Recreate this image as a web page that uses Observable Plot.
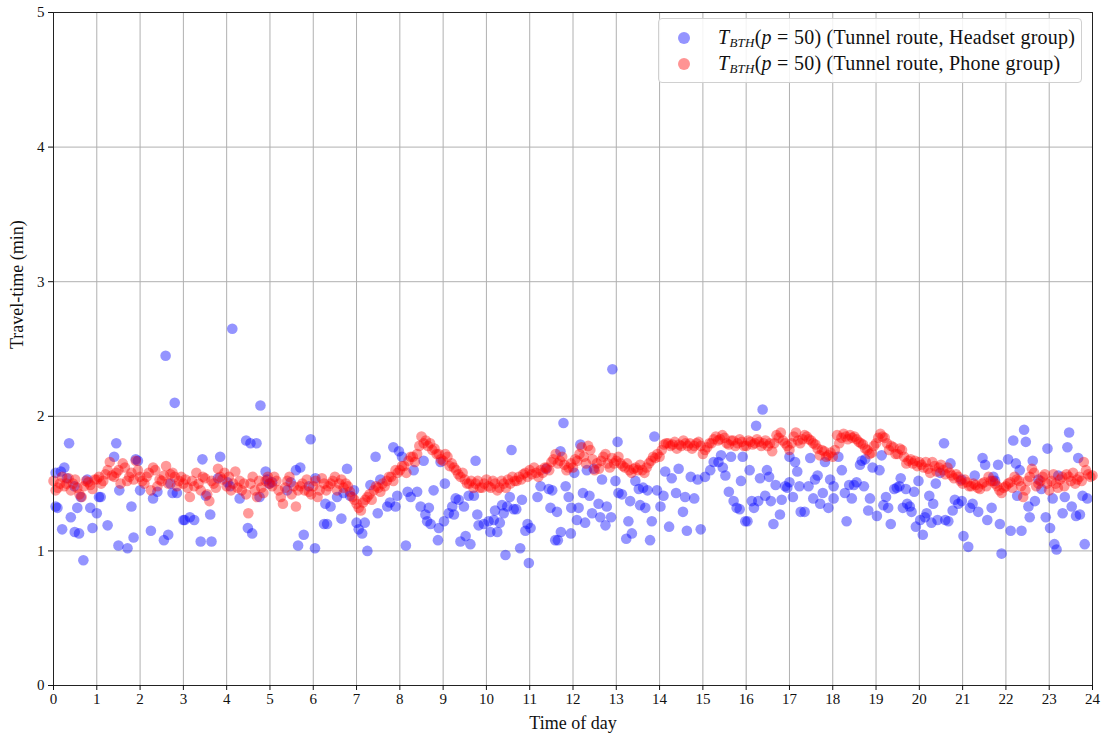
<!DOCTYPE html>
<html><head><meta charset="utf-8">
<script src="https://cdn.jsdelivr.net/npm/d3@7"></script>
<script src="https://cdn.jsdelivr.net/npm/@observablehq/plot@0.6"></script>
<style>
body{margin:0;background:#fff;}
#wrap{position:relative;width:1101px;height:737px;font-family:"Liberation Serif","DejaVu Serif",serif;}
#legend{position:absolute;left:658px;top:18px;width:424px;height:65px;border:1px solid #d0d0d0;border-radius:4px;background:rgba(255,255,255,0.85);box-sizing:border-box;font-size:20px;letter-spacing:0.25px;color:#111;}
.row{position:absolute;left:0;height:26px;display:flex;align-items:center;white-space:nowrap;}
.mk{width:12px;height:12px;border-radius:50%;margin-left:19px;margin-right:28px;}
sub{font-size:13px;vertical-align:-3px;}
</style></head>
<body><div id="wrap"></div>
<script>
// Tick labels
const xTicks = [0,1,2,3,4,5,6,7,8,9,10,11,12,13,14,15,16,17,18,19,20,21,22,23,24];
const yTicks = [0,1,2,3,4,5];

// Phone group: values every 0.1 h from 0.0 to 24.0
const phoneStep = 0.1;
const phoneValues = [
 1.52,1.47,1.55,1.50,1.45,1.53,1.42,1.48,1.51,1.46,
 1.53,1.50,1.57,1.66,1.55,1.60,1.65,1.52,1.58,1.67,
 1.55,1.50,1.58,1.62,1.48,1.52,1.63,1.57,1.55,1.52,
 1.50,1.47,1.52,1.58,1.45,1.54,1.37,1.50,1.61,1.53,
 1.48,1.45,1.59,1.52,1.50,1.28,1.55,1.40,1.47,1.52,
 1.50,1.55,1.45,1.35,1.52,1.42,1.33,1.48,1.45,1.44,
 1.48,1.40,1.54,1.45,1.50,1.55,1.50,1.47,1.48,1.40,
 1.35,1.30,1.38,1.42,1.45,1.47,1.50,1.52,1.55,1.60,
 1.60,1.63,1.67,1.70,1.72,1.85,1.82,1.80,1.76,1.72,
 1.67,1.70,1.65,1.60,1.55,1.53,1.50,1.47,1.52,1.47,
 1.53,1.47,1.50,1.47,1.50,1.53,1.55,1.52,1.53,1.58,
 1.60,1.62,1.55,1.58,1.62,1.66,1.72,1.67,1.64,1.62,
 1.62,1.67,1.77,1.65,1.75,1.60,1.61,1.70,1.65,1.69,
 1.67,1.65,1.62,1.60,1.61,1.60,1.60,1.62,1.67,1.69,
 1.70,1.79,1.80,1.79,1.76,1.78,1.80,1.80,1.78,1.81,
 1.72,1.77,1.80,1.85,1.83,1.84,1.79,1.82,1.80,1.81,
 1.78,1.81,1.80,1.81,1.80,1.78,1.74,1.86,1.88,1.80,
 1.75,1.85,1.82,1.83,1.85,1.82,1.79,1.71,1.74,1.71,
 1.70,1.86,1.84,1.85,1.86,1.85,1.81,1.79,1.75,1.73,
 1.80,1.87,1.84,1.75,1.77,1.72,1.75,1.65,1.68,1.67,
 1.66,1.62,1.61,1.66,1.59,1.64,1.57,1.58,1.54,1.55,
 1.50,1.51,1.48,1.49,1.46,1.51,1.55,1.52,1.48,1.43,
 1.48,1.51,1.55,1.52,1.40,1.52,1.61,1.48,1.52,1.57,
 1.45,1.57,1.47,1.55,1.57,1.52,1.50,1.55,1.66,1.57,
 1.56
];
// Phone group: in-between values at 0.05 h + every 0.1 h
const phoneOffset = 0.05;
const phoneValuesMid = [
 1.45,1.50,1.48,1.54,1.50,1.47,1.40,1.52,1.49,1.53,
 1.55,1.52,1.60,1.56,1.58,1.50,1.62,1.55,1.53,1.60,
 1.52,1.55,1.45,1.60,1.53,1.56,1.50,1.58,1.48,1.55,
 1.53,1.40,1.48,1.50,1.55,1.42,1.52,1.47,1.55,1.58,
 1.55,1.50,1.47,1.45,1.42,1.50,1.45,1.52,1.43,1.55,
 1.48,1.52,1.40,1.47,1.55,1.48,1.45,1.50,1.53,1.42,
 1.52,1.45,1.50,1.48,1.52,1.45,1.53,1.50,1.44,1.38,
 1.32,1.36,1.40,1.38,1.48,1.44,1.48,1.55,1.52,1.58,
 1.63,1.58,1.70,1.66,1.78,1.80,1.78,1.75,1.72,1.68,
 1.72,1.63,1.62,1.57,1.58,1.50,1.52,1.50,1.47,1.50,
 1.48,1.52,1.45,1.52,1.47,1.50,1.52,1.55,1.57,1.55,
 1.57,1.58,1.60,1.62,1.60,1.68,1.65,1.70,1.60,1.65,
 1.68,1.72,1.70,1.78,1.68,1.65,1.67,1.72,1.62,1.65,
 1.70,1.63,1.65,1.58,1.62,1.64,1.58,1.65,1.70,1.72,
 1.75,1.80,1.78,1.81,1.79,1.82,1.78,1.76,1.80,1.78,
 1.75,1.80,1.83,1.82,1.86,1.80,1.82,1.78,1.83,1.78,
 1.82,1.79,1.83,1.78,1.82,1.80,1.80,1.84,1.82,1.78,
 1.80,1.88,1.80,1.86,1.83,1.80,1.76,1.75,1.70,1.73,
 1.75,1.80,1.87,1.83,1.84,1.83,1.80,1.76,1.72,1.78,
 1.84,1.85,1.80,1.78,1.72,1.76,1.70,1.67,1.65,1.63,
 1.64,1.66,1.58,1.63,1.62,1.60,1.62,1.56,1.57,1.52,
 1.53,1.48,1.50,1.47,1.50,1.48,1.52,1.50,1.45,1.47,
 1.50,1.47,1.53,1.48,1.45,1.55,1.58,1.50,1.55,1.50,
 1.52,1.50,1.53,1.48,1.55,1.58,1.53,1.52,1.60,1.55
];

// Headset group: [time of day (h), travel time (min)]
const headsetPoints = [
 [0.05,1.58],[0.05,1.33],[0.09,1.32],[0.17,1.59],[0.2,1.16],[0.25,1.62],[0.31,1.54],[0.36,1.80],[0.4,1.25],[0.48,1.48],
 [0.49,1.14],[0.55,1.32],[0.59,1.13],[0.63,1.40],[0.69,0.93],[0.78,1.53],[0.85,1.32],[0.9,1.17],[1.0,1.28],[1.05,1.40],
 [1.09,1.40],[1.25,1.19],[1.4,1.70],[1.45,1.80],[1.5,1.04],[1.52,1.45],[1.71,1.02],[1.8,1.33],[1.85,1.10],[1.9,1.68],
 [1.95,1.67],[2.0,1.45],[2.25,1.15],[2.3,1.39],[2.4,1.44],[2.55,1.08],[2.59,2.45],[2.65,1.12],[2.7,1.50],[2.75,1.43],
 [2.8,2.10],[2.85,1.43],[3.0,1.23],
 [3.03,1.23],[3.15,1.25],[3.25,1.23],[3.4,1.07],[3.44,1.68],[3.52,1.41],[3.62,1.27],[3.65,1.07],[3.8,1.54],[3.85,1.70],
 [4.02,1.51],[4.08,1.48],[4.13,2.65],[4.3,1.39],[4.45,1.82],[4.49,1.17],[4.55,1.80],[4.59,1.13],[4.69,1.80],[4.76,1.40],
 [4.78,2.08],[4.9,1.59],[4.94,1.53],[4.98,1.50],[5.05,1.51],[5.4,1.45],[5.48,1.51],[5.6,1.60],[5.65,1.04],[5.7,1.62],
 [5.78,1.12],[5.9,1.48],[5.94,1.83],[6.04,1.02],
 [6.05,1.54],[6.25,1.20],[6.28,1.35],[6.32,1.20],[6.4,1.33],[6.55,1.40],[6.65,1.24],[6.7,1.43],[6.78,1.61],[6.85,1.41],
 [6.94,1.45],[7.0,1.21],[7.05,1.16],[7.13,1.13],[7.19,1.21],[7.25,1.00],[7.32,1.49],[7.44,1.70],[7.49,1.28],[7.55,1.53],
 [7.71,1.33],[7.77,1.36],[7.85,1.77],[7.9,1.33],[7.94,1.41],[7.98,1.74],[8.05,1.70],[8.14,1.04],[8.18,1.44],[8.25,1.40],
 [8.32,1.60],[8.4,1.44],[8.48,1.33],[8.55,1.67],[8.59,1.27],[8.63,1.22],[8.67,1.32],[8.71,1.20],[8.78,1.45],[8.88,1.08],
 [8.9,1.17],[8.94,1.66],[9.04,1.50],[9.02,1.22],
 [9.13,1.28],[9.21,1.33],[9.25,1.27],[9.29,1.39],[9.36,1.38],[9.4,1.07],[9.48,1.33],[9.52,1.11],[9.59,1.41],[9.63,1.05],
 [9.71,1.41],[9.75,1.67],[9.79,1.27],[9.82,1.19],[9.94,1.20],[10.05,1.22],[10.09,1.14],[10.17,1.23],[10.2,1.30],[10.25,1.14],
 [10.31,1.21],[10.36,1.34],[10.4,1.28],[10.44,0.97],[10.48,1.33],[10.54,1.40],[10.58,1.75],[10.63,1.31],[10.69,1.31],[10.78,1.02],
 [10.82,1.38],[10.9,1.15],[10.95,1.20],[10.98,0.91],[11.02,1.17],[11.18,1.40],[11.25,1.48],[11.38,1.61],[11.44,1.46],[11.48,1.32],
 [11.52,1.45],[11.59,1.08],[11.63,1.29],[11.65,1.08],[11.71,1.74],[11.72,1.14],[11.78,1.95],[11.83,1.48],[11.9,1.40],[11.95,1.13],
 [11.96,1.32],
 [12.03,1.58],[12.09,1.23],[12.13,1.32],[12.17,1.79],[12.23,1.43],[12.28,1.21],[12.32,1.60],[12.38,1.41],[12.44,1.28],[12.48,1.61],
 [12.59,1.35],[12.63,1.25],[12.67,1.53],[12.75,1.19],[12.78,1.33],[12.88,1.25],[12.91,2.35],[12.98,1.52],[13.03,1.81],[13.05,1.43],
 [13.13,1.42],[13.23,1.09],[13.28,1.22],[13.32,1.37],[13.36,1.13],[13.44,1.52],[13.52,1.46],[13.55,1.34],[13.62,1.47],[13.67,1.32],
 [13.72,1.45],[13.78,1.08],[13.82,1.22],[13.88,1.85],[13.94,1.45],[14.02,1.33],[14.09,1.41],[14.13,1.59],[14.22,1.18],[14.28,1.54],
 [14.38,1.43],[14.44,1.61],[14.54,1.29],[14.59,1.40],[14.63,1.15],[14.72,1.55],[14.8,1.39],[14.88,1.53],[14.95,1.16],
 [15.05,1.55],[15.17,1.60],[15.25,1.66],[15.36,1.66],[15.42,1.71],[15.46,1.62],[15.52,1.56],[15.6,1.44],[15.65,1.70],[15.71,1.37],
 [15.78,1.32],[15.85,1.31],[15.88,1.52],[15.92,1.70],[15.98,1.22],[16.03,1.22],[16.08,1.60],[16.13,1.37],[16.18,1.32],[16.23,1.93],
 [16.28,1.37],[16.32,1.54],[16.38,2.05],[16.44,1.41],[16.48,1.60],[16.53,1.55],[16.57,1.37],[16.63,1.20],[16.68,1.49],[16.78,1.27],
 [16.82,1.38],[16.9,1.48],[16.95,1.47],[17.0,1.51],[17.0,1.70],[17.08,1.40],[17.13,1.66],[17.18,1.59],[17.23,1.48],[17.26,1.29],
 [17.35,1.29],[17.44,1.48],[17.48,1.69],[17.55,1.39],[17.59,1.53],[17.65,1.56],[17.71,1.35],[17.77,1.43],[17.82,1.66],[17.9,1.32],
 [17.94,1.53],[18.02,1.48],[18.02,1.39],
 [18.13,1.70],[18.21,1.60],[18.28,1.43],[18.32,1.22],[18.38,1.49],[18.44,1.39],[18.49,1.49],[18.55,1.51],[18.63,1.64],[18.67,1.67],
 [18.72,1.48],[18.75,1.68],[18.82,1.30],[18.86,1.39],[18.92,1.62],[19.02,1.26],[19.08,1.60],[19.13,1.71],[19.17,1.34],[19.23,1.40],
 [19.28,1.32],[19.34,1.20],[19.42,1.46],[19.48,1.47],[19.54,1.48],[19.57,1.54],[19.62,1.32],[19.69,1.46],[19.72,1.35],[19.78,1.33],
 [19.82,1.29],[19.88,1.44],[19.92,1.18],[19.98,1.52],[20.02,1.23],[20.08,1.12],[20.13,1.25],[20.17,1.28],[20.23,1.41],[20.28,1.21],
 [20.32,1.35],[20.38,1.50],[20.42,1.23],[20.48,1.58],[20.57,1.80],[20.6,1.23],[20.67,1.22],[20.72,1.65],[20.77,1.30],[20.82,1.38],
 [20.9,1.35],[20.97,1.53],[20.98,1.37],[21.02,1.11],
 [21.13,1.03],[21.17,1.32],[21.23,1.35],[21.28,1.56],[21.36,1.29],[21.46,1.69],[21.52,1.64],[21.57,1.23],[21.67,1.32],[21.71,1.55],
 [21.75,1.52],[21.82,1.64],[21.86,1.20],[21.9,0.98],[22.05,1.68],[22.11,1.15],[22.17,1.82],[22.23,1.65],[22.26,1.41],[22.32,1.60],
 [22.36,1.15],[22.42,1.90],[22.46,1.81],[22.52,1.33],[22.55,1.25],[22.62,1.67],[22.67,1.37],[22.75,1.53],[22.82,1.46],[22.92,1.25],
 [22.96,1.76],[23.02,1.17],[23.08,1.39],[23.12,1.05],[23.17,1.01],[23.21,1.56],[23.31,1.28],[23.36,1.40],[23.42,1.77],[23.46,1.88],
 [23.52,1.33],[23.62,1.26],[23.67,1.69],[23.71,1.27],[23.77,1.41],[23.82,1.05],[23.88,1.39]
];

const phone = phoneValues.map((v, i) => ({t: +(i * phoneStep).toFixed(2), v}))
  .concat(phoneValuesMid.map((v, i) => ({t: +(phoneOffset + i * phoneStep).toFixed(2), v})))
  .sort((a, b) => a.t - b.t);
const headset = headsetPoints.map(([t, v]) => ({t, v}));

const chart = Plot.plot({
  width: 1101,
  height: 737,
  marginLeft: 53,
  marginRight: 9,
  marginTop: 12,
  marginBottom: 52,
  style: {fontFamily: '"Liberation Serif","DejaVu Serif",serif', fontSize: "15px", background: "white", color: "#111"},
  x: {domain: [0, 24]},
  y: {domain: [0, 5]},
  marks: [
    Plot.gridX(xTicks, {stroke: "#b0b0b0", strokeOpacity: 1, strokeWidth: 1}),
    Plot.gridY(yTicks, {stroke: "#b0b0b0", strokeOpacity: 1, strokeWidth: 1}),
    Plot.dot(headset, {x: "t", y: "v", r: 5.3, fill: "blue", fillOpacity: 0.42, stroke: "none"}),
    Plot.dot(phone, {x: "t", y: "v", r: 5.3, fill: "red", fillOpacity: 0.4, stroke: "none"}),
    Plot.frame({stroke: "#222", strokeWidth: 1}),
    Plot.axisX(xTicks, {tickSize: 5, tickPadding: 3, fontSize: 15, label: null, tickFormat: d => String(d)}),
    Plot.axisY(yTicks, {tickSize: 5, tickPadding: 4, fontSize: 15, label: null, tickFormat: d => String(d)}),
    Plot.text(["Time of day"], {text: d => d, frameAnchor: "bottom", dy: 38, fontSize: 18, lineAnchor: "middle"}),
    Plot.text(["Travel-time (min)"], {text: d => d, frameAnchor: "left", dx: -36, rotate: -90, fontSize: 18, lineAnchor: "middle"})
  ]
});

const wrap = document.getElementById("wrap");
wrap.appendChild(chart);

const legendItems = [
  {color: "rgba(0,0,255,0.42)", group: "Headset group"},
  {color: "rgba(255,0,0,0.42)", group: "Phone group"}
];
const legend = document.createElement("div");
legend.id = "legend";
legendItems.forEach((item, i) => {
  const row = document.createElement("div");
  row.className = "row";
  row.style.top = (6 + i * 26) + "px";
  row.innerHTML = `<span class="mk" style="background:${item.color}"></span><span><i>T</i><sub><i>BTH</i></sub>(<i>p</i> = 50) (Tunnel route, ${item.group})</span>`;
  legend.appendChild(row);
});
wrap.appendChild(legend);
</script>
</body></html>
